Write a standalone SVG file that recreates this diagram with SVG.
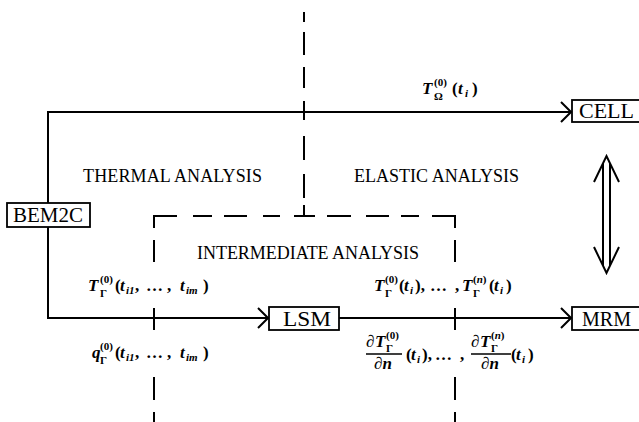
<svg xmlns="http://www.w3.org/2000/svg" width="639" height="422" viewBox="0 0 639 422">
<defs>
<style>
.ln{stroke:#000;stroke-width:2;fill:none}
.dl{stroke:#000;stroke-width:2;fill:none}
.box{fill:#fff;stroke:#000;stroke-width:1.8}
.bt{font-family:"Liberation Serif",serif;font-size:22px;fill:#000}
.at{font-family:"Liberation Serif",serif;font-size:18px;fill:#000}
.m{font-family:"Liberation Serif",serif;font-size:17px;font-weight:bold;fill:#000}
.it{font-style:italic}
.sc{font-size:11px}
</style>
<marker id="ah" viewBox="0 0 12 22" refX="11" refY="11" markerWidth="12" markerHeight="22" markerUnits="userSpaceOnUse" orient="auto">
<path d="M1,1 L11,11 L1,21" fill="none" stroke="#000" stroke-width="2"/>
</marker>
</defs>
<rect width="639" height="422" fill="#fff"/>
<g id="regions">
<path class="dl" d="M304,12V22M304,32V55M304,67V88M304,101V120M304,136V160M304,174V198M304,205V216"/>
<path class="dl" d="M154,228V216H177M193,216H212M224,216H247M263,216H280M294,216H315M327,216H351M366,216H389M401,216H419M432,216H455V228"/>
<path class="dl" d="M154,240V262M154,308V330M154,377V400M154,412V422"/>
<path class="dl" d="M455,240V262M455,308V330M455,377V400M455,412V422"/>
<text class="at" x="83" y="182" textLength="179">THERMAL ANALYSIS</text>
<text class="at" x="354" y="182" textLength="165">ELASTIC ANALYSIS</text>
<text class="at" x="197" y="259" textLength="222">INTERMEDIATE ANALYSIS</text>
</g>
<g id="connectors">
<path class="ln" d="M48,203V112H571" marker-end="url(#ah)"/>
<path class="ln" d="M48,227V318H268" marker-end="url(#ah)"/>
<path class="ln" d="M339,318H571" marker-end="url(#ah)"/>
<g id="cell-mrm">
<path class="ln" d="M603,163V266M610,163V266"/>
<path class="ln" d="M594,182L606.5,156L619,182M594,247L606.5,273L619,247"/>
</g>
</g>
<g id="labels">
<text class="m" y="94"><tspan x="422" class="it">T</tspan><tspan x="434" y="86" class="sc">(0)</tspan><tspan x="434" y="100" class="sc">Ω</tspan><tspan x="452" y="94">(</tspan><tspan x="458" class="it">t</tspan><tspan x="465" y="97" class="sc it">i</tspan><tspan x="472" y="94">)</tspan></text>
<text class="m" y="291"><tspan x="88" class="it">T</tspan><tspan x="100" y="283" class="sc">(0)</tspan><tspan x="100" y="297" class="sc">Γ</tspan><tspan x="115" y="291">(</tspan><tspan x="120" class="it">t</tspan><tspan x="126" y="294" class="sc it">i1</tspan><tspan x="135" y="291">,</tspan><tspan x="146">…</tspan><tspan x="167">,</tspan><tspan x="180" class="it">t</tspan><tspan x="186" y="294" class="sc it">im</tspan><tspan x="203" y="291">)</tspan></text>
<text class="m" y="358"><tspan x="92" class="it">q</tspan><tspan x="100" y="350" class="sc">(0)</tspan><tspan x="100" y="364" class="sc">Γ</tspan><tspan x="115" y="358">(</tspan><tspan x="120" class="it">t</tspan><tspan x="126" y="361" class="sc it">i1</tspan><tspan x="135" y="358">,</tspan><tspan x="146">…</tspan><tspan x="167">,</tspan><tspan x="180" class="it">t</tspan><tspan x="186" y="361" class="sc it">im</tspan><tspan x="203" y="358">)</tspan></text>
<text class="m" y="291"><tspan x="374" class="it">T</tspan><tspan x="385" y="283" class="sc">(0)</tspan><tspan x="385" y="297" class="sc">Γ</tspan><tspan x="399" y="291">(</tspan><tspan x="404" class="it">t</tspan><tspan x="410" y="294" class="sc it">i</tspan><tspan x="415" y="291">),</tspan><tspan x="430">…</tspan><tspan x="455">,</tspan><tspan x="462" class="it">T</tspan><tspan x="473" y="283" class="sc">(<tspan class="it">n</tspan>)</tspan><tspan x="473" y="297" class="sc">Γ</tspan><tspan x="489" y="291">(</tspan><tspan x="494" class="it">t</tspan><tspan x="500" y="294" class="sc it">i</tspan><tspan x="506" y="291">)</tspan></text>
<path d="M366,354H402M471,354H511" stroke="#000" stroke-width="1.5"/>
<text class="m" y="347"><tspan x="366">∂</tspan><tspan x="375" class="it">T</tspan><tspan x="386" y="339" class="sc">(0)</tspan><tspan x="386" y="352" class="sc">Γ</tspan></text>
<text class="m" x="374" y="369"><tspan>∂</tspan><tspan class="it">n</tspan></text>
<text class="m" y="360"><tspan x="406">(</tspan><tspan x="411" class="it">t</tspan><tspan x="417" y="363" class="sc it">i</tspan><tspan x="422" y="360">),</tspan><tspan x="435">…</tspan><tspan x="460">,</tspan></text>
<text class="m" y="347"><tspan x="471">∂</tspan><tspan x="480" class="it">T</tspan><tspan x="491" y="339" class="sc">(<tspan class="it">n</tspan>)</tspan><tspan x="491" y="352" class="sc">Γ</tspan></text>
<text class="m" x="481" y="369"><tspan>∂</tspan><tspan class="it">n</tspan></text>
<text class="m" y="360"><tspan x="511">(</tspan><tspan x="516" class="it">t</tspan><tspan x="522" y="363" class="sc it">i</tspan><tspan x="528" y="360">)</tspan></text>
</g>
<g id="BEM2C"><rect class="box" x="7" y="203" width="83" height="24"/><text class="bt" x="13" y="222" textLength="70" lengthAdjust="spacingAndGlyphs">BEM2C</text></g>
<g id="CELL"><rect class="box" x="572" y="100" width="74" height="22"/><text class="bt" x="579" y="118" textLength="55" lengthAdjust="spacingAndGlyphs">CELL</text></g>
<g id="LSM"><rect class="box" x="269" y="307" width="70" height="23"/><text class="bt" x="283" y="326" textLength="48" lengthAdjust="spacingAndGlyphs">LSM</text></g>
<g id="MRM"><rect class="box" x="572" y="307" width="74" height="23"/><text class="bt" x="582" y="326" textLength="49" lengthAdjust="spacingAndGlyphs">MRM</text></g>
</svg>
